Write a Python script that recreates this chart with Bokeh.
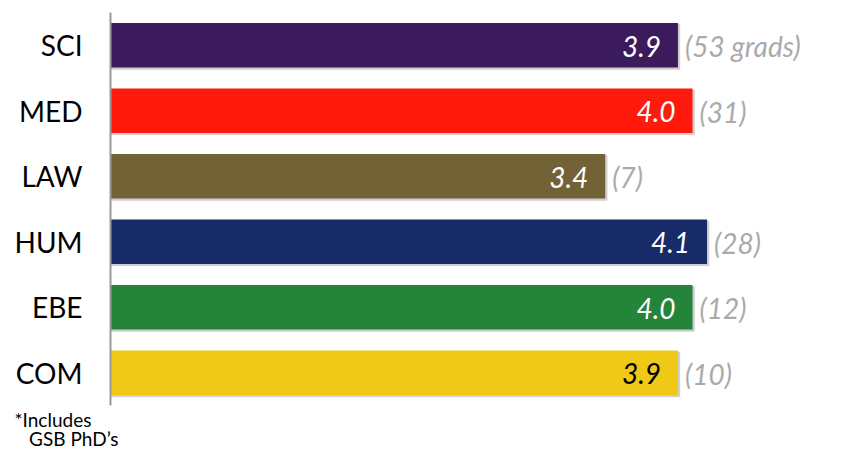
from bokeh.plotting import figure
from bokeh.models import ColumnDataSource, FactorRange, Range1d, Title
from bokeh.transform import dodge
from bokeh.core.properties import value
from bokeh.embed import file_html
from bokeh.resources import INLINE

categories = ["SCI", "MED", "LAW", "HUM", "EBE", "COM"]
scores = [3.9, 4.0, 3.4, 4.1, 4.0, 3.9]
score_labels = ["3.9", "4.0", "3.4", "4.1", "4.0", "3.9"]
count_labels = ["(53 grads)", "(31)", "(7)", "(28)", "(12)", "(10)"]
colors = ["#3b1b5b", "#ff1a0d", "#736236", "#162b68", "#23843a", "#f0c917"]
label_colors = ["white", "white", "white", "white", "white", "black"]
footnote = ["*Includes", "\u00a0\u00a0\u00a0GSB PhD\u2019s"]

src = ColumnDataSource(dict(cat=categories, val=scores, lab=score_labels,
                            cnt=count_labels, col=colors, lcol=label_colors,
                            shadow=[v + 0.012 for v in scores]))

FONT = "Lato"
p = figure(width=834, height=450, output_backend="svg", toolbar_location=None,
           y_range=FactorRange(factors=categories[::-1], range_padding=0),
           x_range=Range1d(0, 4.976),
           min_border_left=110, min_border_right=0, min_border_top=12,
           min_border_bottom=42)
p.outline_line_color = None
p.xgrid.visible = False
p.ygrid.visible = False
p.xaxis.visible = False

p.hbar(y=dodge("cat", -0.025, range=p.y_range), left=0, right="shadow",
       height=0.68, source=src, color="#cfcfcf")
p.hbar(y="cat", left=0, right="val", height=0.68, source=src,
       fill_color="col", line_color=None)

p.text(x="val", y="cat", text="lab", source=src, text_align="right",
       text_baseline="middle", x_offset=-17, y_offset=1, text_color="lcol",
       text_font=value(FONT), text_font_style="italic", text_font_size="28px")
p.text(x="val", y="cat", text="cnt", source=src, text_align="left",
       text_baseline="middle", x_offset=7, y_offset=1, text_color="#aaaaaa",
       text_font=value(FONT), text_font_style="italic", text_font_size="28px")

ax = p.yaxis[0]
ax.major_tick_line_color = None
ax.minor_tick_line_color = None
ax.axis_line_color = "#999999"
ax.axis_line_width = 2
ax.major_label_text_font = FONT
ax.major_label_text_font_size = "28px"
ax.major_label_text_color = "black"
ax.major_label_standoff = 22

p.add_layout(Title(text="\n".join(footnote), align="left", offset=-96, standoff=0,
                   text_font=FONT, text_font_size="19px", text_font_style="normal",
                   text_line_height=0.85, text_color="black"), "below")

open("out.html", "w").write(file_html(p, INLINE))
